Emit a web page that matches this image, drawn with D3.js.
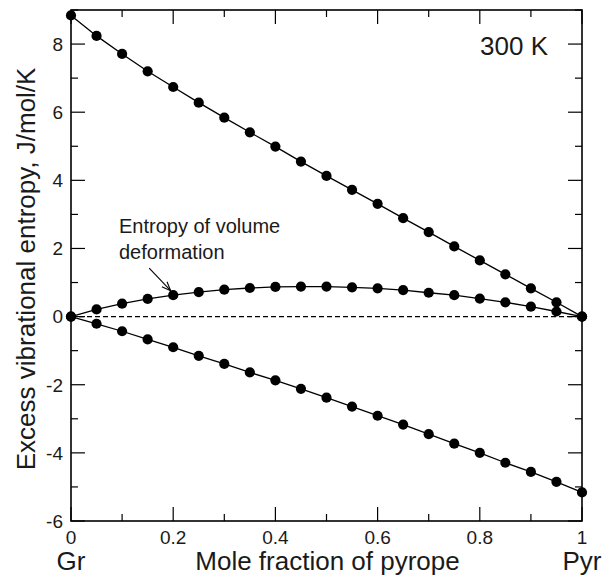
<!DOCTYPE html>
<html>
<head>
<meta charset="utf-8">
<script src="https://cdn.jsdelivr.net/npm/d3@7"></script>
<style>
  body { margin: 0; background: #fff; }
  text { font-family: "Liberation Sans", Arial, Helvetica, sans-serif; fill: #1a1a1a; }
</style>
</head>
<body>
<div id="vis-container"></div>
<script>
// mole fraction of pyrope, every 0.05
xValues = d3.range(0, 21).map(i => +(i * 0.05).toFixed(2))

upperValues = [8.84, 8.24, 7.71, 7.20, 6.74, 6.28, 5.84, 5.41, 4.99, 4.55, 4.13,
               3.72, 3.31, 2.89, 2.48, 2.06, 1.65, 1.24, 0.83, 0.42, 0.00]

volumeValues = [0.00, 0.21, 0.38, 0.52, 0.63, 0.72, 0.79, 0.84, 0.87, 0.88, 0.88,
                0.86, 0.83, 0.78, 0.70, 0.63, 0.53, 0.42, 0.29, 0.15, 0.00]

lowerValues = [0.00, -0.21, -0.43, -0.67, -0.90, -1.15, -1.39, -1.64, -1.87, -2.12, -2.38,
               -2.64, -2.91, -3.17, -3.45, -3.73, -4.00, -4.29, -4.56, -4.85, -5.16]

xMajorTicks = [0, 0.2, 0.4, 0.6, 0.8, 1]
xMinorTicks = [0.1, 0.3, 0.5, 0.7, 0.9]
yMajorTicks = [-6, -4, -2, 0, 2, 4, 6, 8]
yMinorTicks = [-5, -3, -1, 1, 3, 5, 7, 9]

chart = {
  "margin": {"top": 10, "bottom": 56, "left": 71, "right": 21},
  "width": 603,
  "height": 577
}

let innerW = chart.width - chart.margin.left - chart.margin.right
let innerH = chart.height - chart.margin.top - chart.margin.bottom

x = d3.scaleLinear().domain([0, 1]).range([0, innerW])
y = d3.scaleLinear().domain([-6, 9]).range([innerH, 0])

svg = d3.select("#vis-container").append("svg")
  .attr("width", chart.width).attr("height", chart.height)

g = svg.append("g").attr("transform", "translate(" + chart.margin.left + "," + chart.margin.top + ")")

// zero reference line
g.append("line")
  .attr("x1", x(0)).attr("x2", x(1))
  .attr("y1", y(0)).attr("y2", y(0))
  .attr("stroke", "black").attr("stroke-width", 1.1)
  .attr("stroke-dasharray", "5,3")

let series = [upperValues, volumeValues, lowerValues]
let line = d3.line().x((d, i) => x(xValues[i])).y(d => y(d))

series.forEach(function(vals){
  g.append("path")
    .datum(vals)
    .attr("d", line)
    .attr("fill", "none")
    .attr("stroke", "black")
    .attr("stroke-width", 1.3)
  g.selectAll(null)
    .data(vals)
    .enter()
    .append("circle")
    .attr("cx", (d, i) => x(xValues[i]))
    .attr("cy", d => y(d))
    .attr("r", 5.1)
    .attr("fill", "black")
})

// ticks pointing inward on all four sides
function drawTicks(vals, len, side){
  vals.forEach(function(v){
    let t = g.append("line").attr("stroke", "black").attr("stroke-width", 1.2)
    if(side == "bottom") t.attr("x1", x(v)).attr("x2", x(v)).attr("y1", innerH).attr("y2", innerH - len)
    if(side == "top") t.attr("x1", x(v)).attr("x2", x(v)).attr("y1", 0).attr("y2", len)
    if(side == "left") t.attr("x1", 0).attr("x2", len).attr("y1", y(v)).attr("y2", y(v))
    if(side == "right") t.attr("x1", innerW).attr("x2", innerW - len).attr("y1", y(v)).attr("y2", y(v))
  })
}
drawTicks(xMajorTicks, 14, "bottom"); drawTicks(xMinorTicks, 7, "bottom")
drawTicks(xMajorTicks, 14, "top"); drawTicks(xMinorTicks, 7, "top")
drawTicks(yMajorTicks, 14, "left"); drawTicks(yMinorTicks, 7, "left")
drawTicks(yMajorTicks, 14, "right"); drawTicks(yMinorTicks, 7, "right")

g.append("rect")
  .attr("width", innerW).attr("height", innerH)
  .attr("fill", "none").attr("stroke", "black").attr("stroke-width", 1.6)

// tick labels
g.selectAll(".x-label")
  .data(xMajorTicks)
  .enter()
  .append("text")
  .attr("x", d => x(d))
  .attr("y", innerH + 23)
  .attr("text-anchor", "middle")
  .style("font-size", "19px")
  .text(d => d3.format("")(d))

g.selectAll(".y-label")
  .data(yMajorTicks)
  .enter()
  .append("text")
  .attr("x", -8)
  .attr("y", d => y(d))
  .attr("dy", "0.36em")
  .attr("text-anchor", "end")
  .style("font-size", "19px")
  .text(d => d)

// axis titles
g.append("text")
  .attr("x", x(0.5) + 1).attr("y", innerH + 49)
  .attr("text-anchor", "middle").style("font-size", "26px")
  .text("Mole fraction of pyrope")
g.append("text")
  .attr("x", x(0)).attr("y", innerH + 49)
  .attr("text-anchor", "middle").style("font-size", "26px")
  .text("Gr")
g.append("text")
  .attr("x", x(1)).attr("y", innerH + 49)
  .attr("text-anchor", "middle").style("font-size", "26px")
  .text("Pyr")

svg.append("text")
  .attr("transform", "translate(35," + (chart.margin.top + y(1.4)) + ") rotate(-90)")
  .attr("text-anchor", "middle").style("font-size", "26px")
  .text("Excess vibrational entropy, J/mol/K")

g.append("text")
  .attr("x", innerW - 34).attr("y", 45)
  .attr("text-anchor", "end").style("font-size", "26px")
  .text("300 K")

// annotation
let note = g.append("text").attr("x", 48).attr("y", y(2.45)).style("font-size", "20px")
note.append("tspan").attr("x", 48).text("Entropy of volume")
note.append("tspan").attr("x", 48).attr("dy", 26).text("deformation")

svg.append("defs").append("marker")
  .attr("id", "arrow")
  .attr("viewBox", "0 0 10 10").attr("refX", 10).attr("refY", 5)
  .attr("markerWidth", 9).attr("markerHeight", 9).attr("orient", "auto")
  .attr("markerUnits", "userSpaceOnUse")
  .append("path").attr("d", "M0,1 L10,5 L0,9")
  .attr("fill", "none").attr("stroke", "black").attr("stroke-width", 1.2)

g.append("line")
  .attr("x1", x(0.153)).attr("y1", y(1.42))
  .attr("x2", x(0.195)).attr("y2", y(0.76))
  .attr("stroke", "black").attr("stroke-width", 1.1)
  .attr("marker-end", "url(#arrow)")
</script>
</body>
</html>
